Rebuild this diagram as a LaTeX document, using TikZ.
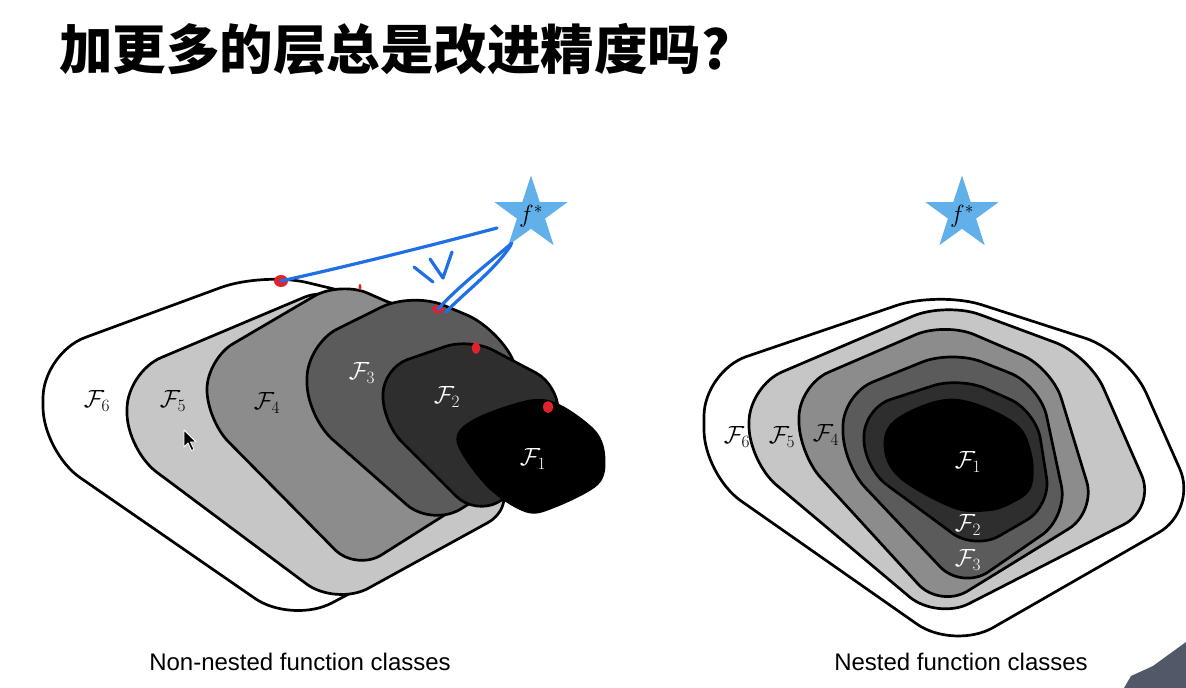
\documentclass[tikz,border=0pt]{standalone}
\usepackage{fontspec}
\usepackage{amsmath}
\setsansfont{Liberation Sans}
\newfontfamily\cjk{Noto Sans CJK SC}
\usetikzlibrary{shapes.geometric}
\definecolor{ffive}{HTML}{C6C6C6}
\definecolor{ffour}{HTML}{8C8C8C}
\definecolor{fthree}{HTML}{5B5B5B}
\definecolor{ftwo}{HTML}{2E2E2E}
\definecolor{fone}{HTML}{000000}
\definecolor{starblue}{HTML}{62B0EA}
\definecolor{penblue}{HTML}{1F6FE5}
\definecolor{penred}{HTML}{E0222C}
\definecolor{coat}{HTML}{515968}

\begin{document}
\begin{tikzpicture}[x=1pt,y=-1pt,line join=round]
  \tikzset{fclass/.style={draw=black,line width=2.7pt},
    flabel/.style={font=\fontsize{26}{30}\selectfont,inner sep=0pt},
    target/.style={star,star points=5,star point ratio=2.6,minimum size=77pt,fill=starblue,inner sep=0pt},
    pen/.style={draw=penblue,line width=3.2pt,line cap=round},
    caption/.style={font=\sffamily\fontsize{24}{28}\selectfont,inner sep=0pt}}
  \useasboundingbox (0,0) rectangle (1186,688);
  \fill[white] (0,0) rectangle (1186,688);
  \node[anchor=west,inner sep=0pt,font=\cjk\bfseries\fontsize{53.5}{60}\selectfont] (title) at (59,49) {加更多的层总是改进精度吗?};

  % non-nested classes
  \draw[fclass,fill=white,rounded corners=45pt] (43,353) -- (263,272) -- (430,312) -- (440,420) -- (470,530) -- (292,624) -- (43,452) -- cycle;
  \draw[fclass,fill=ffive,rounded corners=37pt] (127,372) -- (338,283) -- (520,505) -- (336,606) -- (127,450) -- cycle;
  \draw[fclass,fill=ffour,rounded corners=30pt] (207,359) -- (340,281) -- (520,360) -- (500,480) -- (356,571) -- (207,420) -- cycle;
  \draw[fclass,fill=fthree,rounded corners=34pt] (307,344) -- (412,292) -- (498,328) -- (555,450) -- (432,527) -- (307,417) -- cycle;
  \draw[fclass,fill=ftwo,rounded corners=26pt] (383,368) -- (470,338) -- (559,385) -- (556,470) -- (475,515) -- (383,423) -- cycle;
  \draw[fclass,fill=fone] plot[smooth cycle,tension=0.55] coordinates {(458,442) (475,420) (530,401) (560,406) (595,432) (604,458) (597,484) (553,507) (526,511) (488,486)};
  \node[flabel] (lsix) at (97,401) {$\mathcal{F}_6$};
  \node[flabel] (lfive) at (173,401) {$\mathcal{F}_5$};
  \node[flabel] (lfour) at (267,403) {$\mathcal{F}_4$};
  \node[flabel,white] (lthree) at (362,373) {$\mathcal{F}_3$};
  \node[flabel,white] (ltwo) at (447,397) {$\mathcal{F}_2$};
  \node[flabel,white] (lone) at (533,459) {$\mathcal{F}_1$};
  \node[target] (ltarget) at (531,214) {};
  \node[font=\fontsize{23}{27}\selectfont] (lstar) at (531,216) {$f^*$};

  % nested classes
  \draw[fclass,fill=white,rounded corners=45pt] (704,371) -- (939,291) -- (1128,352) -- (1198,510) -- (954,650) -- (704,475) -- cycle;
  \draw[fclass,fill=ffive,rounded corners=36pt] (749,386) -- (946,302) -- (1089,355) -- (1156,508) -- (937,620) -- (749,462) -- cycle;
  \draw[fclass,fill=ffour,rounded corners=32pt] (799,385) -- (945,322) -- (1052,368) -- (1096,512) -- (940,608) -- (799,454) -- cycle;
  \draw[fclass,fill=fthree,rounded corners=32pt] (843,394) -- (952,350) -- (1040,385) -- (1068,517) -- (962,590) -- (843,464) -- cycle;
  \draw[fclass,fill=ftwo,rounded corners=28pt] (864,408) -- (960,377) -- (1036,411) -- (1051,506) -- (975,550) -- (864,468) -- cycle;
  \draw[fclass,fill=fone] plot[smooth cycle,tension=0.6] coordinates {(885,446) (898,419) (953,400) (1012,422) (1030,452) (1030,487) (1010,503) (987,510) (953,507) (900,477)};
  \node[flabel] (rsix) at (737,437) {$\mathcal{F}_6$};
  \node[flabel] (rfive) at (782,437) {$\mathcal{F}_5$};
  \node[flabel] (rfour) at (826,435) {$\mathcal{F}_4$};
  \node[flabel,white] (rone) at (968,462) {$\mathcal{F}_1$};
  \node[flabel,white] (rtwo) at (968,525) {$\mathcal{F}_2$};
  \node[flabel,white] (rthree) at (968,560) {$\mathcal{F}_3$};
  \node[target] (rtarget) at (962,214) {};
  \node[font=\fontsize{23}{27}\selectfont] (rstar) at (962,216) {$f^*$};

  \node[caption] (lcaption) at (300,662) {Non-nested function classes};
  \node[caption] (rcaption) at (961,662) {Nested function classes};

  % pen marks
  \coordinate (dotsix) at (281,281);
  \coordinate (dotthree) at (438,309);
  \coordinate (dottwo) at (476,348);
  \coordinate (dotone) at (548,407);
  \fill[penred] (dotsix) ellipse [x radius=7pt,y radius=6pt];
  \fill[penred] (dotthree) ellipse [x radius=6pt,y radius=4pt];
  \fill[penred] (dottwo) ellipse [x radius=4pt,y radius=6pt];
  \fill[penred] (dotone) ellipse [x radius=5pt,y radius=6pt];
  \fill[penred] (360,287) ellipse [x radius=1.5pt,y radius=3pt];
  \draw[pen] (dotsix) .. controls (353,265) and (425,247) .. (497,228);
  \draw[pen] (512,243) .. controls (490,262) and (460,285) .. (dotthree);
  \draw[pen] (511,245) .. controls (495,270) and (465,292) .. (446,312);
  \draw[pen] (414,267) -- (433,282);
  \draw[pen] (430,259) -- (443,278) -- (452,252);

  % cursor and speaker
  \fill[black,draw=white,line width=0.8pt] (184,430) -- ++(0,17) -- ++(4,-4) -- ++(3.5,7.5) -- ++(2.5,-1.2) -- ++(-3.5,-7.3) -- ++(5.5,0) -- cycle;
  \fill[coat] (1124,688) -- (1131,676) -- (1153,666) -- (1186,642) -- (1186,688) -- cycle;
\end{tikzpicture}
\end{document}
